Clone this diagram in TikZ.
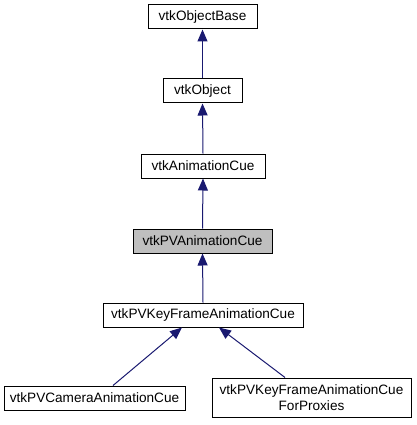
\documentclass[tikz,border=0pt]{standalone}
\usepackage{fontspec}
\setmainfont{Liberation Sans}
\usetikzlibrary{arrows.meta}
\definecolor{edge}{HTML}{191970}
\begin{document}
\begin{tikzpicture}[x=1pt,y=-1pt,
  cls/.style={draw=black,line width=1pt,fill=white,inner sep=0pt,align=center,
    font=\fontsize{13.6}{15.5}\selectfont},
  inh/.style={draw=edge,line width=1pt,-{Triangle[width=10pt,length=12pt,fill=edge]}}]
\useasboundingbox (0,0) rectangle (416,425);
\node[cls,minimum width=109pt,minimum height=24pt] (base) at (202.5,17) {vtkObjectBase};
\node[cls,minimum width=79pt,minimum height=24pt] (obj) at (202.5,91) {vtkObject};
\node[cls,minimum width=124pt,minimum height=24pt] (anim) at (203,166) {vtkAnimationCue};
\node[cls,minimum width=139pt,minimum height=24pt,fill=black!25] (pv) at (202.5,241) {vtkPVAnimationCue};
\node[cls,minimum width=200pt,minimum height=24pt] (kf) at (203,315) {vtkPVKeyFrameAnimationCue};
\node[cls,minimum width=181pt,minimum height=24pt] (cam) at (94.5,398) {vtkPVCameraAnimationCue};
\node[cls,minimum width=199pt,minimum height=39pt] (prox) at (311.5,397.5) {vtkPVKeyFrameAnimationCue\\ForProxies};
\draw[inh] (obj.north) -- (base.south);
\draw[inh] (anim.north) -- (obj.south);
\draw[inh] (pv.north) -- (anim.south);
\draw[inh] (kf.north) -- (pv.south);
\draw[inh] ([xshift=18.5pt]cam.north) -- ([xshift=-21pt]kf.south);
\draw[inh] ([xshift=-26.5pt]prox.north) -- ([xshift=16pt]kf.south);
\end{tikzpicture}
\end{document}
